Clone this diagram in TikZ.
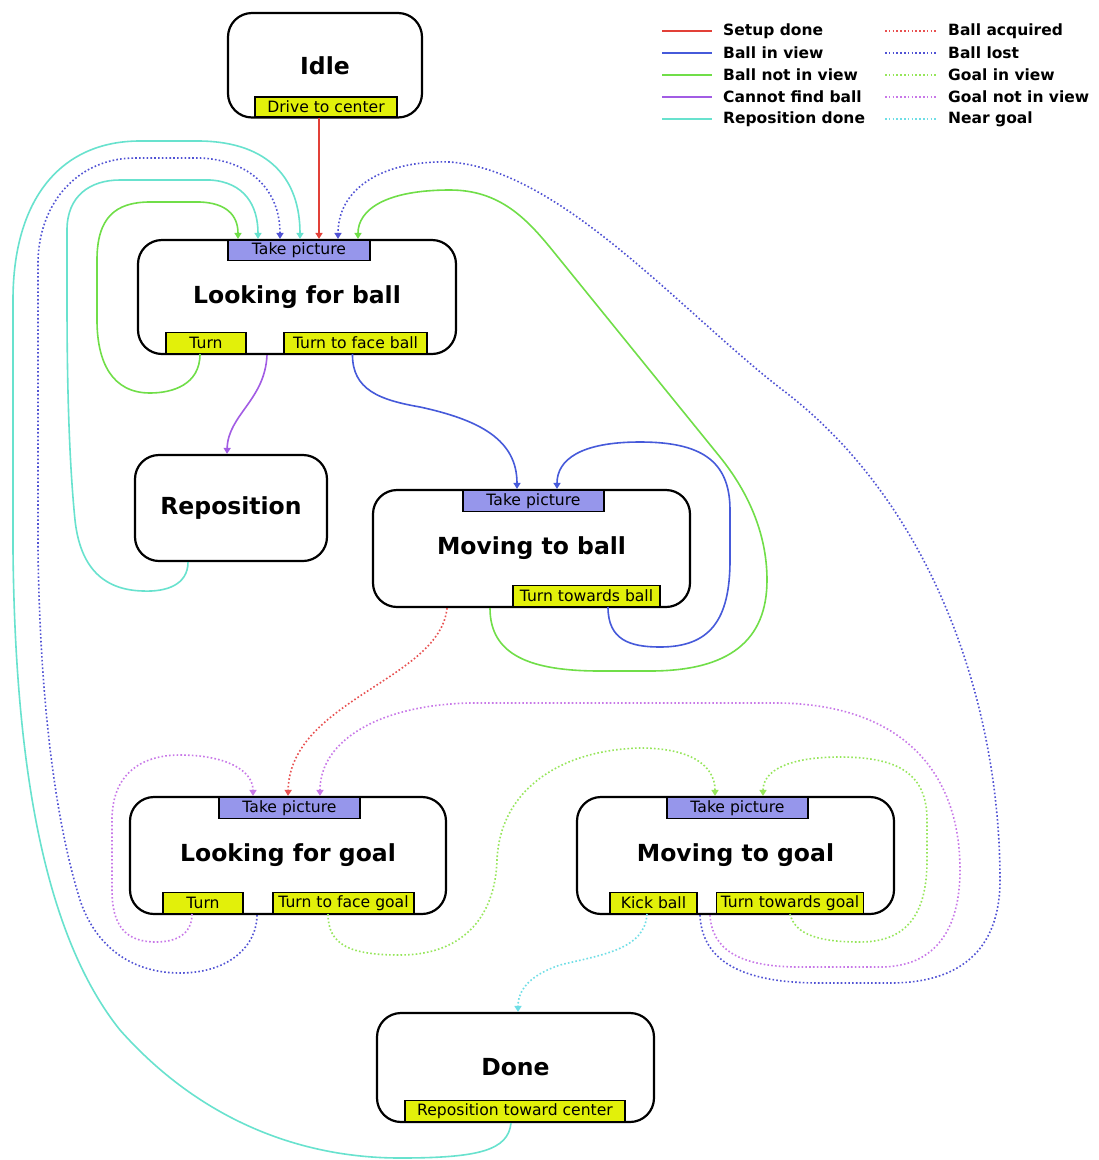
\documentclass[tikz,border=0pt]{standalone}
\usepackage{fontspec}
\setmainfont{DejaVu Sans}
\usetikzlibrary{arrows.meta}
\definecolor{cRed}{RGB}{226,64,56}
\definecolor{cBlue}{RGB}{70,90,218}
\definecolor{cGreen}{RGB}{112,222,72}
\definecolor{cPurple}{RGB}{162,92,228}
\definecolor{cCyan}{RGB}{104,226,206}
\definecolor{dRed}{RGB}{232,80,80}
\definecolor{dBlue}{RGB}{80,82,212}
\definecolor{dGreen}{RGB}{150,230,90}
\definecolor{dPurple}{RGB}{200,120,232}
\definecolor{dCyan}{RGB}{110,222,230}
\definecolor{actY}{RGB}{226,240,10}
\definecolor{picB}{RGB}{150,150,235}
\begin{document}
\begin{tikzpicture}[x=1pt,y=-1pt,
  state/.style={draw=black, line width=2.2pt, rounded corners=24pt, fill=white, inner sep=0pt,
    font=\bfseries\fontsize{23.5}{28}\selectfont},
  act/.style={draw=black, line width=1.3pt, fill=actY, inner sep=0pt, minimum height=21pt,
    font=\fontsize{15.6}{18}\selectfont},
  picbox/.style={act, fill=picB},
  conn/.style={line width=1.6pt, -{Triangle[length=6pt,width=7pt]}},
  dots/.style={line width=1.6pt, dash pattern=on 1.6pt off 2.2pt},
  legtext/.style={anchor=west, inner sep=0pt, font=\bfseries\fontsize{15.5}{18}\selectfont}
]
\useasboundingbox (0,0) rectangle (1099,1160);
\fill[white] (0,0) rectangle (1099,1160);

% ---------- states ----------
\node[state, minimum width=194pt, minimum height=104.5pt] (idle) at (325,65.25) {Idle};
\node[act, minimum width=142pt, minimum height=20pt, anchor=south] (idleA) at (326,117.5) {Drive to center};

\node[state, minimum width=318pt, minimum height=114pt] (lfb) at (297,297) {Looking for ball};
\node[picbox, minimum width=142pt, minimum height=20pt, anchor=north] (lfbT) at (299,240) {Take picture};
\node[act, minimum width=80pt, anchor=south] (lfbA) at (206,354) {Turn};
\node[act, minimum width=143pt, anchor=south] (lfbB) at (355.5,354) {Turn to face ball};

\node[state, minimum width=192pt, minimum height=106pt] (rep) at (231,508) {Reposition};

\node[state, minimum width=317pt, minimum height=117pt] (mtb) at (531.5,548.5) {Moving to ball};
\node[picbox, minimum width=141pt, anchor=north] (mtbT) at (533.5,490) {Take picture};
\node[act, minimum width=147pt, anchor=south] (mtbB) at (586.5,607) {Turn towards ball};

\node[state, minimum width=316pt, minimum height=117pt] (lfg) at (288,855.5) {Looking for goal};
\node[picbox, minimum width=141pt, anchor=north] (lfgT) at (289.5,797) {Take picture};
\node[act, minimum width=80pt, anchor=south] (lfgA) at (203,914) {Turn};
\node[act, minimum width=141pt, anchor=south] (lfgB) at (343.5,914) {Turn to face goal};

\node[state, minimum width=317pt, minimum height=117pt] (mtg) at (735.5,855.5) {Moving to goal};
\node[picbox, minimum width=141pt, anchor=north] (mtgT) at (737.5,797) {Take picture};
\node[act, minimum width=87pt, anchor=south] (mtgA) at (653.5,914) {Kick ball};
\node[act, minimum width=147pt, anchor=south] (mtgB) at (790,914) {Turn towards goal};

\node[state, minimum width=277pt, minimum height=109pt] (done) at (515.5,1067.5) {Done};
\node[act, minimum width=220pt, anchor=south] (doneA) at (515,1122) {Reposition toward center};

% ---------- connectors ----------
% Setup done
\draw[conn, cRed] ([xshift=-7pt]idleA.south) -- ([xshift=22pt]lfb.north);
% Ball not in view (self loop of Looking for ball)
\draw[conn, cGreen] ([xshift=-6pt]lfbA.south) .. controls (200,385) and (172,393) .. (150,393)
  .. controls (112,393) and (97,362) .. (97,320) -- (97,260)
  .. controls (97,218) and (115,202) .. (150,202) -- (200,202)
  .. controls (226,203) and (238,215) .. ([xshift=-59pt]lfb.north);
% Reposition done (Reposition -> Looking for ball)
\draw[conn, cCyan] ([xshift=-43pt]rep.south) .. controls (188,585) and (166,592) .. (143,591)
  .. controls (102,590) and (80,566) .. (75,520) .. controls (70,470) and (67,400) .. (67,300)
  -- (67,230) .. controls (67,196) and (90,180) .. (120,180) -- (210,180)
  .. controls (244,182) and (258,205) .. ([xshift=-39pt]lfb.north);
% Ball lost (Looking for goal -> Looking for ball)
\draw[conn, dots, dBlue] ([xshift=-31pt]lfg.south) .. controls (257,945) and (230,973) .. (180,973)
  .. controls (130,973) and (95,945) .. (80,900) .. controls (55,820) and (40,700) .. (38,550)
  -- (38,260) .. controls (40,200) and (80,158) .. (135,158) -- (200,158)
  .. controls (250,160) and (280,190) .. ([xshift=-17pt]lfb.north);
% Reposition done (Done -> Looking for ball)
\draw[conn, cCyan] ([xshift=-4.5pt]done.south) .. controls (508,1150) and (480,1158) .. (400,1158)
  .. controls (300,1158) and (200,1120) .. (120,1030) .. controls (40,930) and (15,750) .. (13,550)
  -- (13,300) .. controls (13,200) and (60,141) .. (140,141) -- (200,141)
  .. controls (270,142) and (300,180) .. ([xshift=3pt]lfb.north);
% Ball lost (Moving to goal -> Looking for ball)
\draw[conn, dots, dBlue] ([xshift=-35.5pt]mtg.south) .. controls (702,960) and (740,983) .. (820,983)
  -- (890,983) .. controls (960,983) and (1000,950) .. (1000,880)
  .. controls (1000,700) and (930,500) .. (780,388)
  .. controls (680,310) and (560,170) .. (450,162)
  .. controls (380,160) and (338,190) .. ([xshift=41pt]lfb.north);
% Ball in view (Looking for ball -> Moving to ball)
\draw[conn, cBlue] ([xshift=-3pt]lfbB.south) .. controls (352,390) and (380,400) .. (420,407)
  .. controls (480,420) and (517,440) .. ([xshift=-14.5pt]mtb.north);
% Ball in view (self loop of Moving to ball)
\draw[conn, cBlue] ([xshift=21.5pt]mtbB.south) .. controls (608,640) and (630,647) .. (660,647)
  .. controls (710,647) and (730,620) .. (730,560) -- (730,510)
  .. controls (730,460) and (700,442) .. (640,442)
  .. controls (580,442) and (557,460) .. ([xshift=25.5pt]mtb.north);
% Ball not in view (Moving to ball -> Looking for ball)
\draw[conn, cGreen] ([xshift=-41.5pt]mtb.south) .. controls (490,655) and (530,671) .. (600,671)
  -- (650,671) .. controls (730,671) and (767,640) .. (767,580)
  .. controls (767,530) and (745,488) .. (720,457) -- (553,251)
  .. controls (527,219) and (500,190) .. (450,190)
  .. controls (385,190) and (358,210) .. ([xshift=61pt]lfb.north);
% Cannot find ball
\draw[conn, cPurple] ([xshift=-30pt]lfb.south) .. controls (265,400) and (228,415) .. ([xshift=-4pt]rep.north);
% Ball acquired
\draw[conn, dots, dRed] ([xshift=-84.5pt]mtb.south) .. controls (440,680) and (290,700) .. (lfg.north);
% Goal not in view (self loop of Looking for goal)
\draw[conn, dots, dPurple] ([xshift=-11pt]lfgA.south) .. controls (192,935) and (175,942) .. (156,942)
  .. controls (125,942) and (112,925) .. (112,890) -- (112,820)
  .. controls (112,775) and (140,755) .. (180,755)
  .. controls (225,755) and (253,770) .. ([xshift=-35pt]lfg.north);
% Goal in view (Looking for goal -> Moving to goal)
\draw[conn, dots, dGreen] ([xshift=-15.5pt]lfgB.south) .. controls (328,945) and (350,955) .. (400,955)
  .. controls (460,955) and (495,920) .. (497,860)
  .. controls (500,790) and (560,750) .. (640,748)
  .. controls (690,748) and (715,765) .. ([xshift=-20.5pt]mtg.north);
% Goal in view (self loop of Moving to goal)
\draw[conn, dots, dGreen] (mtgB.south) .. controls (795,935) and (820,942) .. (860,942)
  .. controls (910,942) and (927,910) .. (927,860) -- (927,820)
  .. controls (927,775) and (900,757) .. (840,757)
  .. controls (790,757) and (763,770) .. ([xshift=27.5pt]mtg.north);
% Goal not in view (Moving to goal -> Looking for goal)
\draw[conn, dots, dPurple] ([xshift=-25.5pt]mtg.south) .. controls (712,950) and (740,967) .. (800,967)
  -- (880,967) .. controls (935,967) and (960,930) .. (960,870)
  .. controls (960,770) and (900,705) .. (780,703) -- (470,703)
  .. controls (380,705) and (320,740) .. ([xshift=32pt]lfg.north);
% Near goal
\draw[conn, dots, dCyan] ([xshift=-6.5pt]mtgA.south) .. controls (645,950) and (600,955) .. (560,965)
  .. controls (530,975) and (518,990) .. ([xshift=2.5pt]done.north);

% ---------- legend ----------
\draw[line width=1.6pt, cRed] (662,31) -- (712,31);
\draw[line width=1.6pt, cBlue] (662,53) -- (712,53);
\draw[line width=1.6pt, cGreen] (662,75) -- (712,75);
\draw[line width=1.6pt, cPurple] (662,97) -- (712,97);
\draw[line width=1.6pt, cCyan] (662,119) -- (712,119);
\node[legtext] (l1) at (723,31) {Setup done};
\node[legtext] (l2) at (723,53) {Ball in view};
\node[legtext] (l3) at (723,75) {Ball not in view};
\node[legtext] (l4) at (723,97) {Cannot find ball};
\node[legtext] (l5) at (723,119) {Reposition done};
\draw[dots, dRed] (885,31) -- (937,31);
\draw[dots, dBlue] (885,53) -- (937,53);
\draw[dots, dGreen] (885,75) -- (937,75);
\draw[dots, dPurple] (885,97) -- (937,97);
\draw[dots, dCyan] (885,119) -- (937,119);
\node[legtext] (r1) at (948,31) {Ball acquired};
\node[legtext] (r2) at (948,53) {Ball lost};
\node[legtext] (r3) at (948,75) {Goal in view};
\node[legtext] (r4) at (948,97) {Goal not in view};
\node[legtext] (r5) at (948,119) {Near goal};
\end{tikzpicture}
\end{document}
